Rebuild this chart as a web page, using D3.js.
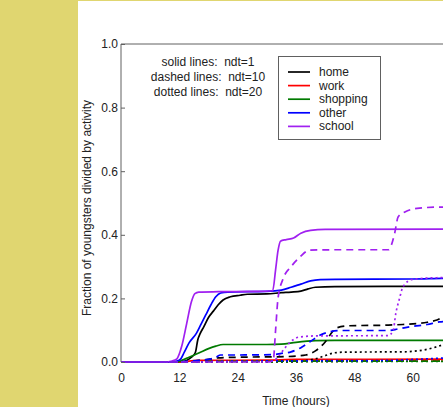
<!DOCTYPE html>
<html>
<head>
<meta charset="utf-8">
<script src="https://cdn.jsdelivr.net/npm/d3@7"></script>
<style>
  html, body { margin: 0; padding: 0; background: #e0d670; }
  svg { display: block; }
  text { font-family: "Liberation Sans", Arial, sans-serif; }
  .note { white-space: pre; }
</style>
</head>
<body>
<svg id="chart" width="443" height="407"></svg>
<script>
// Activity categories, legend order
const activities = ["home", "work", "shopping", "other", "school"];
const activityColors = ["#000000", "#ff0000", "#007a00", "#0000ff", "#a020f0"];

// Time step settings and their line styles
const ndtValues = [1, 10, 20];
const xTicks = [0, 12, 24, 36, 48, 60];
const yTicks = [0.0, 0.2, 0.4, 0.6, 0.8, 1.0];

// [hour, fraction] samples, ndt = 1
const home1 = [[0,0],[12,0],[13.5,0.005],[14.5,0.015],[15.3,0.03],[15.8,0.07],[16.3,0.09],[17,0.11],[18,0.14],[19,0.16],[20,0.18],[21,0.195],[22.5,0.205],[24.5,0.21],[26,0.213],[30,0.214],[33,0.218],[35,0.22],[37,0.223],[38.5,0.23],[40,0.235],[44,0.237],[72,0.238]];
const work1 = [[0,0],[13,0],[14,0.003],[16,0.005],[30,0.006],[36,0.008],[72,0.009]];
const shopping1 = [[0,0],[11.5,0],[12.5,0.005],[14,0.015],[16,0.028],[18,0.042],[19.5,0.05],[21,0.055],[30,0.055],[33,0.056],[36,0.062],[40,0.067],[44,0.068],[72,0.068]];
const other1 = [[0,0],[10,0],[11.5,0.003],[12.3,0.01],[13,0.03],[14,0.06],[15.5,0.09],[16.5,0.12],[17.5,0.15],[18.5,0.18],[19.5,0.205],[20.5,0.217],[22,0.22],[30,0.222],[33,0.226],[35,0.235],[37,0.245],[39,0.255],[41,0.259],[44,0.26],[60,0.261],[66,0.263],[72,0.264]];
const school1 = [[0,0],[9,0],[10.5,0.003],[11.5,0.01],[12.5,0.05],[13.5,0.12],[14.5,0.19],[15.2,0.215],[16,0.22],[20,0.221],[28,0.222],[31.2,0.224],[31.8,0.29],[32.3,0.35],[32.8,0.38],[34,0.385],[35.5,0.39],[37,0.405],[39,0.414],[42,0.417],[72,0.418]];

// ndt = 10
const home10 = [[0,0],[13,0],[15,0.003],[18,0.008],[20,0.013],[24,0.015],[34,0.017],[38,0.022],[40,0.035],[42,0.063],[43.5,0.095],[44.5,0.108],[47,0.114],[55,0.116],[58,0.118],[61,0.121],[63,0.125],[65,0.132],[66.5,0.142],[72,0.15]];
const work10 = [[0,0],[14,0],[16,0.002],[30,0.003],[40,0.004],[72,0.005]];
const shopping10 = [[0,0],[14,0],[20,0.002],[72,0.003]];
const other10 = [[0,0],[12,0],[14,0.003],[18,0.008],[19.5,0.015],[20.5,0.022],[22,0.022],[31,0.023],[33,0.027],[35,0.032],[37,0.045],[39,0.065],[41,0.085],[43,0.095],[45,0.099],[55,0.099],[57,0.104],[60,0.112],[63,0.118],[65.5,0.126],[72,0.132]];
const school10 = [[0,0],[30,0],[31.3,0.003],[31.8,0.1],[32.3,0.2],[33.3,0.26],[35,0.3],[36.8,0.33],[38.8,0.352],[45,0.353],[55,0.353],[56.3,0.405],[57,0.456],[58.4,0.472],[61.4,0.484],[65,0.487],[72,0.488]];

// ndt = 20
const home20 = [[0,0],[36,0],[38,0.004],[40,0.01],[42,0.02],[44,0.029],[46,0.031],[58,0.032],[61,0.035],[63,0.04],[65,0.048],[67,0.058],[72,0.07]];
const work20 = [[0,0],[14,0],[20,0.001],[40,0.002],[72,0.003]];
const shopping20 = [[0,0],[20,0],[40,0.001],[72,0.002]];
const other20 = [[0,0],[14,0],[20,0.002],[40,0.004],[55,0.005],[60,0.008],[66,0.012],[72,0.014]];
const school20 = [[0,0],[30,0],[31.5,0.005],[32.5,0.02],[33.5,0.04],[35,0.065],[36.5,0.078],[40,0.082],[55,0.083],[56,0.1],[56.5,0.15],[57.3,0.2],[58,0.236],[60,0.26],[65,0.265],[72,0.267]];

const seriesByNdt = [
  [home1, work1, shopping1, other1, school1],
  [home10, work10, shopping10, other10, school10],
  [home20, work20, shopping20, other20, school20]
];
const dashStyles = [null, "7,5", "2,3"];

const svg = d3.select("#chart");

// page panel
svg.append("rect").attr("x", 78).attr("y", 1).attr("width", 443 - 78).attr("height", 406).attr("fill", "#ffffff");

const x = d3.scaleLinear().domain([0, 72]).range([121, 471]);
const y = d3.scaleLinear().domain([0, 1]).range([362, 44]);

const line = d3.line()
  .x(d => x(d[0]))
  .y(d => y(d[1]))
  .curve(d3.curveMonotoneX);

// data lines
const lines = svg.append("g");
seriesByNdt.forEach((group, gi) => {
  group.forEach((data, ai) => {
    lines.append("path")
      .datum(data)
      .attr("d", line)
      .attr("fill", "none")
      .attr("stroke", activityColors[ai])
      .attr("stroke-width", 1.7)
      .attr("stroke-dasharray", dashStyles[gi]);
  });
});

// frame
const frame = svg.append("g").attr("stroke", "#606060").attr("fill", "none");
frame.append("line").attr("x1", x(0)).attr("x2", x(72)).attr("y1", y(1)).attr("y2", y(1));
frame.append("line").attr("x1", x(0)).attr("x2", x(0)).attr("y1", y(1)).attr("y2", y(0));

// y axis: inward ticks
const yAxis = svg.append("g")
  .attr("transform", `translate(${x(0)},0)`)
  .call(d3.axisRight(y).tickValues(yTicks).tickFormat(d3.format(".1f")).tickSize(4).tickSizeOuter(0));
yAxis.select(".domain").remove();
yAxis.selectAll(".tick line").attr("stroke", "#606060");
yAxis.selectAll(".tick text")
  .attr("x", -3)
  .attr("text-anchor", "end")
  .attr("font-size", 12)
  .attr("fill", "#222");

// x axis labels
const xAxis = svg.append("g")
  .attr("transform", `translate(0,${y(0)})`)
  .call(d3.axisBottom(x).tickValues(xTicks).tickSize(0).tickPadding(11));
xAxis.select(".domain").remove();
xAxis.selectAll(".tick text").attr("font-size", 12).attr("fill", "#222");

// axis titles
svg.append("text")
  .attr("x", x(36)).attr("y", 405)
  .attr("text-anchor", "middle").attr("font-size", 12).attr("fill", "#222")
  .text("Time (hours)");
svg.append("text")
  .attr("transform", `translate(91,208) rotate(-90)`)
  .attr("text-anchor", "middle").attr("font-size", 12).attr("fill", "#222")
  .text("Fraction of youngsters divided by activity");

// line style notes
const notes = ["solid lines:  ndt=" + ndtValues[0], "dashed lines:  ndt=" + ndtValues[1], "dotted lines:  ndt=" + ndtValues[2]];
svg.append("g").selectAll("text").data(notes).join("text")
  .attr("class", "note")
  .attr("x", 208).attr("y", (d, i) => 66 + i * 15)
  .attr("text-anchor", "middle").attr("font-size", 12).attr("fill", "#222")
  .text(d => d);

// legend
const legend = svg.append("g");
legend.append("rect")
  .attr("x", 278.5).attr("y", 56.5).attr("width", 102).attr("height", 83)
  .attr("fill", "#fff").attr("stroke", "#606060");
activities.forEach((name, i) => {
  const ly = 72 + i * 13.6;
  legend.append("line")
    .attr("x1", 288).attr("x2", 310).attr("y1", ly).attr("y2", ly)
    .attr("stroke", activityColors[i]).attr("stroke-width", 1.7);
  legend.append("text")
    .attr("x", 319).attr("y", ly + 4)
    .attr("font-size", 12).attr("fill", "#222")
    .text(name);
});
</script>
</body>
</html>
